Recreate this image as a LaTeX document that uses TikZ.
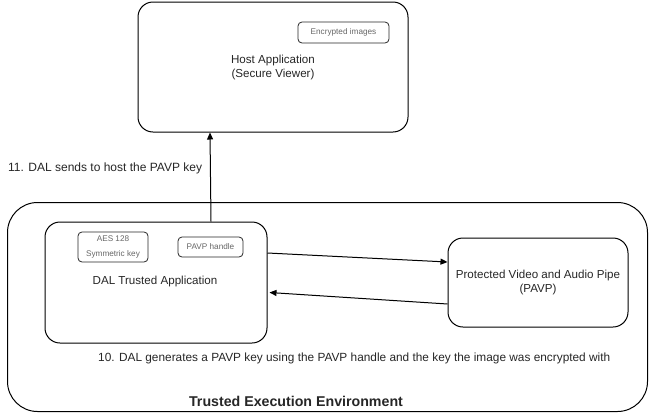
\documentclass[tikz,border=0pt]{standalone}
\usepackage{fontspec}
\setmainfont{Liberation Sans}
\usetikzlibrary{arrows.meta}
\begin{document}
\begin{tikzpicture}[x=1pt,y=-1pt,
  box/.style={draw=black, line width=1pt, rounded corners=#1, inner sep=0pt},
  box/.default=15pt,
  smallbox/.style={draw=black!85, line width=0.8pt, rounded corners=4pt, inner sep=0pt, text=black!60, font=\fontsize{8.2}{15}\selectfont, align=center},
  lbl/.style={font=\fontsize{11.6}{14}\selectfont, align=center, inner sep=0pt, text=black!85},
  conn/.style={line width=1pt, -{Triangle[length=7pt,width=6pt]}}
]
\useasboundingbox (0,0) rectangle (649,413);
% outer TEE
\node[box=30pt, minimum width=640pt, minimum height=209pt] (tee) at (327.5,307) {};
\node[lbl, font=\bfseries\fontsize{14.2}{16}\selectfont] (teelbl) at (296,401) {Trusted Execution Environment};
% host
\node[box, minimum width=270pt, minimum height=130pt] (host) at (273,67) {};
\node[lbl] (hostlbl) at (273,67) {Host Application\\(Secure Viewer)};
\node[smallbox, minimum width=91pt, minimum height=21pt] (enc) at (343.5,32.5) {Encrypted images};
% DAL
\node[box, minimum width=222pt, minimum height=121pt] (dal) at (156,282.5) {};
\node[lbl] (dallbl) at (155,281) {DAL Trusted Application};
\node[smallbox, minimum width=70pt, minimum height=30pt] (aes) at (113,247) {AES 128\\Symmetric key};
\node[smallbox, minimum width=65pt, minimum height=20pt] (handle) at (210.5,247) {PAVP handle};
% PAVP
\node[box, minimum width=180pt, minimum height=89pt] (pavp) at (538,282.5) {};
\node[lbl] (pavplbl) at (538,282) {Protected Video and Audio Pipe\\(PAVP)};
% labels
\node[lbl, anchor=west, font=\fontsize{12}{14}\selectfont] (l11) at (8,168) {11. DAL sends to host the PAVP key};
\node[lbl, anchor=west, font=\fontsize{11.85}{14}\selectfont] (l10) at (98,358) {10. DAL generates a PAVP key using the PAVP handle and the key the image was encrypted with};
% connectors
\draw[conn] ([xshift=55pt]dal.north) -- ([xshift=-63pt]host.south);
\draw[conn] ([yshift=29.5pt]dal.east) -- ([yshift=20.5pt]pavp.west);
\draw[conn] ([yshift=-21.5pt]pavp.west) -- ([xshift=2pt,yshift=-10pt]dal.east);
\end{tikzpicture}
\end{document}
